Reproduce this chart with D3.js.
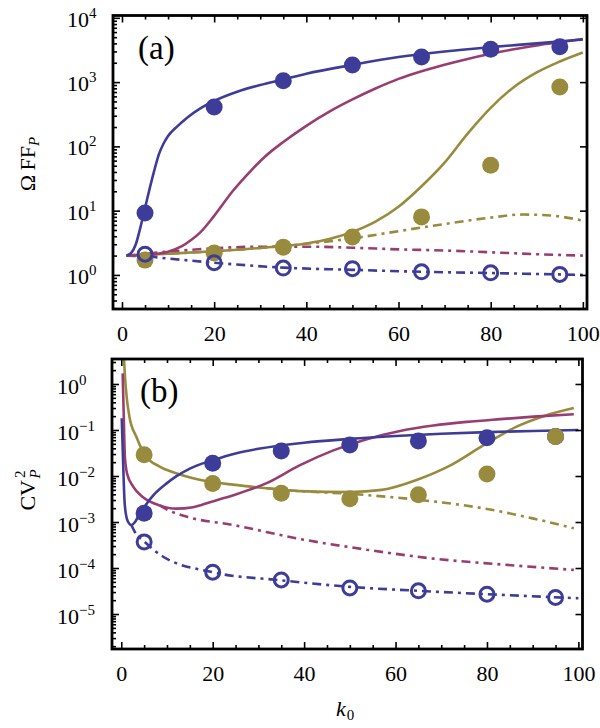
<!DOCTYPE html>
<html><head><meta charset="utf-8">
<script src="https://cdn.jsdelivr.net/npm/d3@7"></script>
<style>
body{margin:0;background:#fff}
svg{display:block}
text{font-family:"Liberation Serif","DejaVu Serif",serif;fill:#000}
</style>
</head><body>
<svg id="c" width="600" height="728"></svg>
<script>
// ---------------- DATA ----------------
const kPoints = [5, 20, 35, 50, 65, 80, 95];
const xTickLabels = [0, 20, 40, 60, 80, 100];

// Panel (a): Omega FF_P
const aBlueFilled  = [9.2, 410, 1050, 1850, 2450, 3250, 3550];
const aGoldFilled  = [1.7, 2.2, 2.7, 3.9, 8.0, 51, 840];
const aBlueHollow  = [2.1, 1.55, 1.28, 1.25, 1.12, 1.08, 1.02];

const aBlueSolidK = [1, 2, 3, 4, 5, 6, 7, 8, 9, 10, 12, 14, 17, 20, 25, 30, 35, 40, 50, 60, 70, 80, 90, 100];
const aBlueSolidV = [2.0, 2.2, 3.0, 5.5, 11, 22, 42, 75, 110, 145, 205, 275, 390, 510, 710, 900, 1100, 1350, 1850, 2450, 3000, 3500, 4000, 4600];
const aMagSolidK = [1, 5, 10, 13, 15, 17, 20, 24, 28, 31, 35, 40, 45, 50, 55, 60, 65, 70, 75, 80, 85, 90, 100];
const aMagSolidV = [2.0, 2.04, 2.3, 2.8, 3.5, 4.6, 8.3, 20, 42, 69, 117, 209, 347, 537, 794, 1122, 1479, 1862, 2291, 2754, 3236, 3715, 4677];
const aGoldSolidK = [1, 10, 20, 30, 40, 45, 50, 55, 60, 65, 70, 75, 80, 85, 90, 95, 100];
const aGoldSolidV = [2.0, 2.14, 2.34, 2.63, 3.09, 3.63, 4.68, 6.76, 11.5, 24, 56, 158, 398, 832, 1413, 2089, 2884];
const aGoldDashK = [1, 10, 20, 30, 40, 50, 60, 70, 80, 87, 93, 100];
const aGoldDashV = [2.0, 2.14, 2.34, 2.63, 3.05, 3.7, 4.8, 6.2, 7.8, 8.7, 8.4, 7.0];
const aMagDashK = [1, 10, 20, 30, 40, 50, 60, 70, 80, 90, 100];
const aMagDashV = [2.0, 2.3, 2.6, 2.75, 2.75, 2.65, 2.5, 2.4, 2.25, 2.1, 2.0];
const aBlueDashK = [1, 5, 10, 20, 35, 50, 65, 80, 100];
const aBlueDashV = [2.0, 1.95, 1.8, 1.55, 1.3, 1.2, 1.12, 1.07, 1.0];

// Panel (b): CV_P^2
const bBlueFilled = [1.55e-3, 0.019, 0.035, 0.047, 0.058, 0.068, 0.072];
const bGoldFilled = [0.029, 0.0069, 0.0042, 0.0032, 0.0039, 0.011, 0.072];
const bBlueHollow = [3.7e-4, 8.1e-5, 5.5e-5, 3.7e-5, 3.2e-5, 2.7e-5, 2.3e-5];

const bBlueSolidK = [0.1, 0.4, 0.7, 1.0, 1.5, 2.2, 3, 4, 5, 7, 10, 12, 15, 20, 25, 30, 40, 50, 60, 70, 80, 90, 100];
const bBlueSolidV = [0.18, 0.02, 3e-3, 1.5e-3, 1.0e-3, 8.6e-4, 1.0e-3, 1.5e-3, 2.1e-3, 3.8e-3, 7.0e-3, 0.0098, 0.0145, 0.022, 0.031, 0.039, 0.053, 0.064, 0.074, 0.083, 0.09, 0.095, 0.1];
const bMagSolidK = [0.3, 0.5, 0.8, 1.3, 2.6, 4.7, 8.4, 12, 15.7, 19.4, 24.5, 31.8, 39, 46.4, 53.7, 61, 68.3, 75.6, 82.9, 90.2, 99];
const bMagSolidV = [1.7, 0.3, 0.025, 0.011, 5.9e-3, 3.5e-3, 2.3e-3, 1.95e-3, 2.1e-3, 2.7e-3, 3.8e-3, 7e-3, 0.017, 0.036, 0.063, 0.095, 0.125, 0.15, 0.172, 0.195, 0.22];
const bGoldSolidK = [0.4, 0.8, 1.2, 1.8, 3.3, 5.1, 8.4, 12, 19.4, 24.5, 31.8, 39, 50, 57, 64.6, 72, 79, 86.6, 92.4, 99];
const bGoldSolidV = [10, 1.5, 0.5, 0.19, 0.071, 0.029, 0.016, 0.0115, 7.5e-3, 6.5e-3, 5.4e-3, 4.7e-3, 4.5e-3, 5e-3, 8.2e-3, 0.017, 0.045, 0.12, 0.2, 0.3];
const bGoldDashK = [31.8, 39, 50, 60, 68.3, 79, 90, 99];
const bGoldDashV = [5.4e-3, 4.7e-3, 4.1e-3, 3.4e-3, 2.8e-3, 2.0e-3, 1.2e-3, 7.3e-4];
const bMagDashK = [8.4, 10.6, 15, 24.5, 39, 53.7, 68.3, 82.9, 99];
const bMagDashV = [2.3e-3, 1.75e-3, 1.25e-3, 8.6e-4, 4.3e-4, 2.5e-4, 1.6e-4, 1.2e-4, 9.1e-5];
const bBlueDashK = [2.2, 3, 5, 9, 20, 35, 50, 65, 80, 100];
const bBlueDashV = [8.6e-4, 6e-4, 3.8e-4, 1.8e-4, 8.1e-5, 5.4e-5, 3.9e-5, 3.2e-5, 2.7e-5, 2.2e-5];

const BLUE = "#3d3d99", MAG = "#993d71", GOLD = "#998b3d";

// ---------------- DRAW ----------------
const svg = d3.select("#c");
const zip = (ks, vs) => ks.map((k, i) => [k, vs[i]]);

function panel(id, xs, ys, curves, dots, label, labelPos, labelX, baseOff) {
  const [x0, x1] = xs.range(), [y0, y1] = ys.range(); // y0 bottom, y1 top
  const g = svg.append("g");
  g.append("clipPath").attr("id", "clip" + id)
    .append("rect").attr("x", x0).attr("y", y1).attr("width", x1 - x0).attr("height", y0 - y1);
  const plot = g.append("g").attr("clip-path", `url(#clip${id})`);
  const line = d3.line().x(d => xs(d[0])).y(d => ys(d[1])).curve(d3.curveMonotoneX);
  curves.forEach(c => {
    plot.append("path").attr("d", line(c.data)).attr("fill", "none")
      .attr("stroke", c.color).attr("stroke-width", 2.6)
      .attr("stroke-dasharray", c.dash ? "9,5,3,5" : null);
  });
  dots.forEach(s => {
    plot.selectAll(null).data(kPoints.map((k, i) => [k, s.values[i]])).enter()
      .append("circle").attr("cx", d => xs(d[0])).attr("cy", d => ys(d[1]))
      .attr("r", s.hollow ? 7 : 8.5)
      .attr("fill", s.hollow ? "none" : s.color)
      .attr("stroke", s.hollow ? s.color : "none")
      .attr("stroke-width", 3);
  });

  // ticks
  const xMinor = d3.range(0, 101, 5).filter(v => v % 20 !== 0);
  const tickStyle = sel => { sel.select(".domain").remove(); sel.selectAll("line").attr("stroke", "#000").attr("stroke-width", 1.6); };
  g.append("g").attr("transform", `translate(0,${y0})`)
    .call(d3.axisBottom(xs).tickValues(xTickLabels).tickSizeInner(-7).tickSizeOuter(0).tickPadding(16).tickFormat(d3.format("d")))
    .call(tickStyle)
    .call(s => s.selectAll("text").attr("font-size", 22).attr("font-family", "Liberation Serif"));
  g.append("g").attr("transform", `translate(0,${y0})`)
    .call(d3.axisBottom(xs).tickValues(xMinor).tickSizeInner(-4).tickSizeOuter(0).tickFormat(""))
    .call(tickStyle);
  g.append("g").attr("transform", `translate(0,${y1})`)
    .call(d3.axisTop(xs).tickValues(xTickLabels).tickSizeInner(-7).tickSizeOuter(0).tickFormat(""))
    .call(tickStyle);
  g.append("g").attr("transform", `translate(0,${y1})`)
    .call(d3.axisTop(xs).tickValues(xMinor).tickSizeInner(-4).tickSizeOuter(0).tickFormat(""))
    .call(tickStyle);

  const [lo, hi] = ys.domain().map(Math.log10);
  const majors = d3.range(Math.ceil(lo), Math.floor(hi) + 1).map(e => Math.pow(10, e));
  const minors = [];
  for (let e = Math.floor(lo); e <= Math.floor(hi); e++)
    for (let m = 2; m <= 9; m++) { const v = m * Math.pow(10, e); if (Math.log10(v) > lo && Math.log10(v) < hi) minors.push(v); }
  g.append("g").attr("transform", `translate(${x0},0)`)
    .call(d3.axisLeft(ys).tickValues(majors).tickSizeInner(-7).tickSizeOuter(0).tickFormat(""))
    .call(tickStyle);
  g.append("g").attr("transform", `translate(${x0},0)`)
    .call(d3.axisLeft(ys).tickValues(minors).tickSizeInner(-4).tickSizeOuter(0).tickFormat(""))
    .call(tickStyle);
  g.append("g").attr("transform", `translate(${x1},0)`)
    .call(d3.axisRight(ys).tickValues(majors).tickSizeInner(-7).tickSizeOuter(0).tickFormat(""))
    .call(tickStyle);

  // y tick labels
  majors.forEach(v => {
    const e = Math.round(Math.log10(v));
    const t = g.append("text").attr("x", labelX).attr("y", ys(v) + baseOff).attr("font-size", 22).text("10");
    t.append("tspan").attr("dy", -9).attr("font-size", 15).text(e < 0 ? "\u2212" + (-e) : String(e));
  });

  // frame
  g.append("rect").attr("x", x0).attr("y", y1).attr("width", x1 - x0).attr("height", y0 - y1)
    .attr("fill", "none").attr("stroke", "#000").attr("stroke-width", 2.8);

  // panel label
  g.append("text").attr("x", labelPos[0]).attr("y", labelPos[1]).attr("font-size", 33).text(label);
  return g;
}

const xA = d3.scaleLinear().domain([-1.95, 100.9]).range([113, 587]);
const yA = d3.scaleLog().domain([Math.pow(10, -0.53), Math.pow(10, 4.036)]).range([309, 15.5]);
const xB = d3.scaleLinear().domain([-2.03, 100.9]).range([112, 582.5]);
const yB = d3.scaleLog().domain([Math.pow(10, -5.76), Math.pow(10, 0.543)]).range([649, 359]);

panel("a", xA, yA, [
  {data: zip(aGoldDashK, aGoldDashV), color: GOLD, dash: true},
  {data: zip(aMagDashK, aMagDashV), color: MAG, dash: true},
  {data: zip(aBlueDashK, aBlueDashV), color: BLUE, dash: true},
  {data: zip(aGoldSolidK, aGoldSolidV), color: GOLD},
  {data: zip(aMagSolidK, aMagSolidV), color: MAG},
  {data: zip(aBlueSolidK, aBlueSolidV), color: BLUE}
], [
  {values: aBlueFilled, color: BLUE},
  {values: aGoldFilled, color: GOLD},
  {values: aBlueHollow, color: BLUE, hollow: true}
], "(a)", [138, 59], 67, 9);

panel("b", xB, yB, [
  {data: zip(bGoldDashK, bGoldDashV), color: GOLD, dash: true},
  {data: zip(bMagDashK, bMagDashV), color: MAG, dash: true},
  {data: zip(bBlueDashK, bBlueDashV), color: BLUE, dash: true},
  {data: zip(bGoldSolidK, bGoldSolidV), color: GOLD},
  {data: zip(bMagSolidK, bMagSolidV), color: MAG},
  {data: zip(bBlueSolidK, bBlueSolidV), color: BLUE}
], [
  {values: bBlueFilled, color: BLUE},
  {values: bGoldFilled, color: GOLD},
  {values: bBlueHollow, color: BLUE, hollow: true}
], "(b)", [140, 402], 57, 10);

// axis titles
const tA = svg.append("text").attr("transform", "translate(35,164) rotate(-90)")
  .attr("text-anchor", "middle").attr("font-size", 22);
tA.append("tspan").text("\u03A9\u2009FF");
tA.append("tspan").attr("font-style", "italic").attr("font-size", 15).attr("dy", 4).text("P");

const tB = svg.append("text").attr("transform", "translate(35,490) rotate(-90)")
  .attr("text-anchor", "middle").attr("font-size", 22);
tB.append("tspan").text("CV");
tB.append("tspan").attr("font-size", 15).attr("dy", -10).attr("dx", 2).text("2");
tB.append("tspan").attr("font-style", "italic").attr("font-size", 15).attr("dx", -8).attr("dy", 15).text("P");

const tX = svg.append("text").attr("x", 336).attr("y", 716).attr("font-size", 22);
tX.append("tspan").attr("font-style", "italic").text("k");
tX.append("tspan").attr("font-size", 15).attr("dy", 4).attr("dx", 1).text("0");
</script>
</body></html>
